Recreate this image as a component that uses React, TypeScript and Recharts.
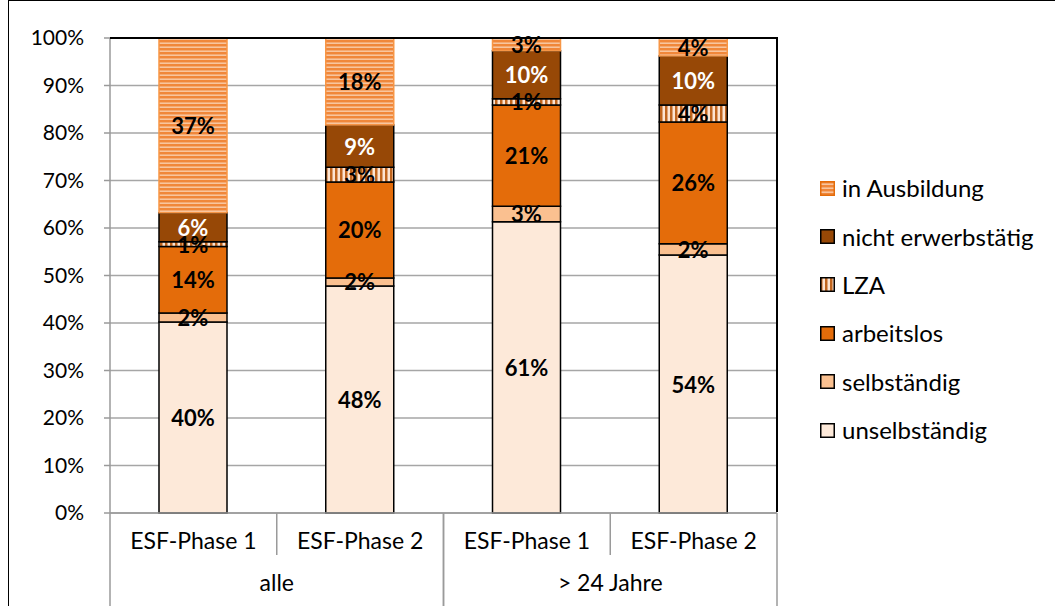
import { BarChart, Bar, XAxis, YAxis, CartesianGrid, LabelList } from "recharts"

const categories = ["ESF-Phase 1", "ESF-Phase 2", "ESF-Phase 1", "ESF-Phase 2"]
const groups = ["alle", "alle", "> 24 Jahre", "> 24 Jahre"]

const unselbstaendig = [40.2, 47.8, 61.3, 54.3]
const selbstaendig = [1.9, 1.7, 3.3, 2.4]
const arbeitslos = [14.0, 20.2, 21.3, 25.6]
const lza = [1.0, 3.1, 1.3, 3.6]
const nichtErwerbstaetig = [6.1, 8.9, 10.1, 10.3]
const inAusbildung = [36.8, 18.3, 2.7, 3.8]

const yTicks = [0, 10, 20, 30, 40, 50, 60, 70, 80, 90, 100]

const data = categories.map((c, i) => ({
    id: `c${i}`,
    cat: c,
    group: groups[i],
    unselbstaendig: unselbstaendig[i],
    selbstaendig: selbstaendig[i],
    arbeitslos: arbeitslos[i],
    lza: lza[i],
    nichtErwerbstaetig: nichtErwerbstaetig[i],
    inAusbildung: inAusbildung[i]
}))

const series = [
    { key: "unselbstaendig", name: "unselbständig", fill: "#FDE9D9", stroke: "#000", text: "#000" },
    { key: "selbstaendig", name: "selbständig", fill: "#FAC090", stroke: "#000", text: "#000" },
    { key: "arbeitslos", name: "arbeitslos", fill: "#E46C0A", stroke: "#000", text: "#000" },
    { key: "lza", name: "LZA", fill: "url(#vstripe)", stroke: "#000", text: "#000" },
    { key: "nichtErwerbstaetig", name: "nicht erwerbstätig", fill: "#974806", stroke: "#000", text: "#fff" },
    { key: "inAusbildung", name: "in Ausbildung", fill: "url(#hstripe)", stroke: "#F79646", text: "#000" }
]

const FONT = "Lato, 'Open Sans', sans-serif"
const PLOT_LEFT = 110
const PLOT_RIGHT = 777
const PLOT_TOP = 38
const PLOT_BOTTOM = 513
const BAND = (PLOT_RIGHT - PLOT_LEFT) / categories.length

function CategoryTick(props: any) {
    const { x, index } = props
    const left = x - BAND / 2
    const right = x + BAND / 2
    const groupStart = index === 0 || groups[index] !== groups[index - 1]
    const groupEnd = index === categories.length - 1 || groups[index] !== groups[index + 1]
    return (
        <g>
            <text x={x} y={PLOT_BOTTOM + 36} textAnchor="middle" fontSize={23} fontFamily={FONT} fill="#000">
                {categories[index]}
            </text>
            <line x1={left} x2={left} y1={PLOT_BOTTOM} y2={groupStart ? 606 : 555} stroke="#9a9a9a" strokeWidth={1.5} />
            {groupEnd && (
                <line x1={right} x2={right} y1={PLOT_BOTTOM} y2={606} stroke="#9a9a9a" strokeWidth={1.5} />
            )}
            {groupEnd && !groupStart && (
                <text x={left} y={PLOT_BOTTOM + 78} textAnchor="middle" fontSize={23} fontFamily={FONT} fill="#000">
                    {groups[index]}
                </text>
            )}
        </g>
    )
}

function SegmentLabel(props: any, color: string) {
    const { x, y, width, height, value } = props
    return (
        <text
            x={x + width / 2}
            y={y + height / 2}
            textAnchor="middle"
            dominantBaseline="central"
            fontSize={22}
            fontWeight="bold"
            fontFamily={FONT}
            fill={color}
        >
            {`${Math.round(value)}%`}
        </text>
    )
}

function LegendSwatch({ s }: { s: (typeof series)[number] }) {
    return (
        <svg width={15} height={15} style={{ display: "block" }}>
            <rect x={0.75} y={0.75} width={13.5} height={13.5} fill={s.fill} stroke={s.key === "inAusbildung" ? "#E46C0A" : "#000"} strokeWidth={1.5} />
        </svg>
    )
}

export default function App() {
    const legendItems = [...series].reverse()
    return (
        <div style={{ position: "absolute", left: 0, top: 0, width: 1055, height: 606, overflow: "hidden", background: "#fff", fontFamily: FONT }}>
            <svg width={0} height={0} style={{ position: "absolute" }}>
                <defs>
                    <pattern id="hstripe" width={4} height={4} patternUnits="userSpaceOnUse">
                        <rect width={4} height={4} fill="#F0873A" />
                        <rect y={2.6} width={4} height={1.1} fill="#FCE0C8" />
                    </pattern>
                    <pattern id="vstripe" width={5} height={5} patternUnits="userSpaceOnUse">
                        <rect width={5} height={5} fill="#FCE4D2" />
                        <rect x={0} width={2.5} height={5} fill="#C0651E" />
                    </pattern>
                </defs>
            </svg>
            <div style={{ position: "absolute", left: 8, top: 0, width: 1200, height: 800, border: "1.5px solid #000", boxSizing: "border-box" }} />
            <BarChart
                width={1055}
                height={606}
                data={data}
                margin={{ top: PLOT_TOP, right: 1055 - PLOT_RIGHT, left: 0, bottom: 0 }}
                barSize={68}
                style={{ position: "absolute", left: 0, top: 0 }}
            >
                <CartesianGrid vertical={false} stroke="#a6a6a6" strokeWidth={1.5} />
                <YAxis
                    type="number"
                    domain={[0, 100]}
                    ticks={yTicks}
                    width={PLOT_LEFT}
                    tickFormatter={(v: number) => `${v}%`}
                    tick={{ fontSize: 21, fontFamily: FONT, fill: "#000" }}
                    axisLine={{ stroke: "#9a9a9a", strokeWidth: 1.5 }}
                    tickLine={{ stroke: "#9a9a9a", strokeWidth: 1.5 }}
                    tickSize={6}
                    tickMargin={20}
                    interval={0}
                />
                <XAxis
                    dataKey="id"
                    height={606 - PLOT_BOTTOM}
                    axisLine={{ stroke: "#9a9a9a", strokeWidth: 1.5 }}
                    tickLine={false}
                    tick={<CategoryTick />}
                    interval={0}
                />
                {series.map((s) => (
                    <Bar
                        key={s.key}
                        dataKey={s.key}
                        name={s.name}
                        stackId="a"
                        fill={s.fill}
                        stroke={s.stroke}
                        strokeWidth={1.5}
                        isAnimationActive={false}
                    >
                        <LabelList dataKey={s.key} content={(p: any) => SegmentLabel(p, s.text)} />
                    </Bar>
                ))}
            </BarChart>
            <div
                style={{
                    position: "absolute",
                    left: PLOT_LEFT,
                    top: PLOT_TOP - 1,
                    width: PLOT_RIGHT - PLOT_LEFT + 1,
                    height: PLOT_BOTTOM - PLOT_TOP,
                    borderTop: "2px solid #000",
                    borderRight: "2px solid #000",
                    boxSizing: "border-box",
                    pointerEvents: "none"
                }}
            />
            <div style={{ position: "absolute", left: 820, top: 164 }}>
                {legendItems.map((s) => (
                    <div key={s.key} style={{ display: "flex", alignItems: "center", height: 48.4, gap: 7 }}>
                        <LegendSwatch s={s} />
                        <span style={{ fontSize: 24, color: "#000", lineHeight: 1 }}>{s.name}</span>
                    </div>
                ))}
            </div>
        </div>
    )
}
